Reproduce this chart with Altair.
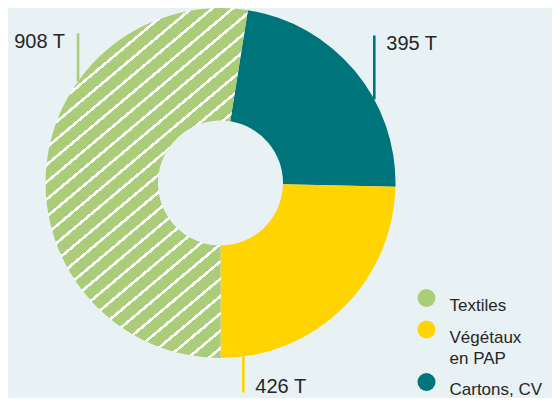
import math
import altair as alt
import pandas as pd

# ---------------- data ----------------
categories = ["Cartons, CV", "Végétaux en PAP", "Textiles"]
tonnages = [395, 426, 908]
value_labels = ["395 T", "426 T", "908 T"]

# ---------------- style ----------------
legend_order = ["Textiles", "Végétaux en PAP", "Cartons, CV"]
palette = ["#abcd79", "#ffd400", "#00747b"]
BG = "#e8f2f4"
TEXT = "#262626"
FONT = "Liberation Sans"

R_OUT = 175.0
R_IN = 62.5
START = math.radians(9)

# leader lines: angle on outer edge (deg clockwise from 12 o'clock) and length (px)
lead_angle = [61.5, 172.5, 305.5]
lead_len = [64, 36, 48]

# ---------------- tables ----------------
slices = pd.DataFrame({"cat": categories, "val": tonnages, "ord": list(range(len(categories)))})

rows = []
for cat, lab, a, ln in zip(categories, value_labels, lead_angle, lead_len):
    r = math.radians(a)
    x = R_OUT * math.sin(r)
    y0 = R_OUT * math.cos(r)
    up = y0 > 0
    y1 = y0 + ln if up else y0 - ln
    ty = y1 - 15 if up else y1
    side = "right" if x < 0 else "left"
    tx = x - 13 if side == "right" else x + 12
    rows.append({"cat": cat, "label": lab, "x": x, "y0": y0, "y1": y1,
                 "tx": tx, "ty": ty, "side": side})
leaders = pd.DataFrame(rows)

# ---------------- stripe gradient for Textiles ----------------
total = sum(tonnages)
a_start = START + 2 * math.pi * (total - tonnages[2]) / total
a_end = START + 2 * math.pi
xs, ys = [], []
for k in range(0, 3601):
    t = a_start + (a_end - a_start) * k / 3600
    for rr in (R_IN, R_OUT):
        xs.append(rr * math.sin(t))
        ys.append(rr * math.cos(t))
W = max(xs) - min(xs)
H = max(ys) - min(ys)
alpha = math.radians(40)
ga = math.sin(alpha) / H
gb = math.cos(alpha) / W
s = (ga + gb) / (ga * ga + gb * gb)
D = W * math.sin(alpha) + H * math.cos(alpha)
period = 13.2
N = max(1, round(D / period))
wfrac = 2.6 / period
stops = []
for k in range(N):
    o0 = k / N
    o1 = (k + wfrac) / N
    o2 = (k + 1) / N
    stops += [{"offset": o0, "color": "#ffffff"}, {"offset": o1, "color": "#ffffff"},
              {"offset": o1, "color": palette[0]}, {"offset": o2, "color": palette[0]}]
stripes = {"gradient": "linear", "x1": 0, "y1": 0, "x2": s * ga, "y2": s * gb, "stops": stops}

# ---------------- chart ----------------
cscale = alt.Scale(domain=legend_order, range=palette)
xsc = alt.Scale(domain=[-R_OUT, R_OUT], nice=False, zero=False)
ysc = alt.Scale(domain=[-R_OUT, R_OUT], nice=False, zero=False)

legend = alt.Legend(
    title=None, orient="none", legendX=372, legendY=281, padding=0,
    symbolType="circle", symbolSize=324, symbolStrokeWidth=0, symbolOpacity=1,
    labelFont=FONT, labelFontSize=17, labelColor=TEXT, labelOffset=14,
    labelBaseline="top", rowPadding=6.5, labelLimit=0,
    labelExpr="datum.label == 'Végétaux en PAP' ? ['Végétaux', 'en PAP'] : datum.label",
)

arcs = alt.Chart(slices).mark_arc(outerRadius=R_OUT, innerRadius=R_IN).encode(
    theta=alt.Theta("val:Q", stack=True, scale=alt.Scale(range=[START, START + 2 * math.pi])),
    order=alt.Order("ord:Q"),
    fill=alt.condition(alt.datum.cat == "Textiles", alt.value(stripes),
                       alt.Fill("cat:N", scale=cscale, legend=legend)),
)

lines = alt.Chart(leaders).mark_rule(strokeWidth=2.6).encode(
    x=alt.X("x:Q", scale=xsc, axis=None),
    y=alt.Y("y0:Q", scale=ysc, axis=None),
    y2="y1:Q",
    stroke=alt.Stroke("cat:N", scale=cscale, legend=None),
)

text_l = alt.Chart(leaders).transform_filter(alt.datum.side == "left").mark_text(
    align="left", baseline="alphabetic", font=FONT, fontSize=20, color=TEXT
).encode(x=alt.X("tx:Q", scale=xsc, axis=None), y=alt.Y("ty:Q", scale=ysc, axis=None), text="label:N")

text_r = alt.Chart(leaders).transform_filter(alt.datum.side == "right").mark_text(
    align="right", baseline="alphabetic", font=FONT, fontSize=20, color=TEXT
).encode(x=alt.X("tx:Q", scale=xsc, axis=None), y=alt.Y("ty:Q", scale=ysc, axis=None), text="label:N")

chart = alt.layer(arcs, lines, text_l, text_r).properties(
    width=350, height=350,
    autosize=alt.AutoSizeParams(type="none"),
    padding={"left": 37.5, "top": 0, "right": 156.5, "bottom": 40},
    background=BG,
).configure(
    view=alt.ViewConfig(stroke="transparent", strokeWidth=0),
    style={"guide-label": {"lineHeight": 21}},
)

chart.save("out.html", embed_options={"renderer": "svg", "actions": False})
